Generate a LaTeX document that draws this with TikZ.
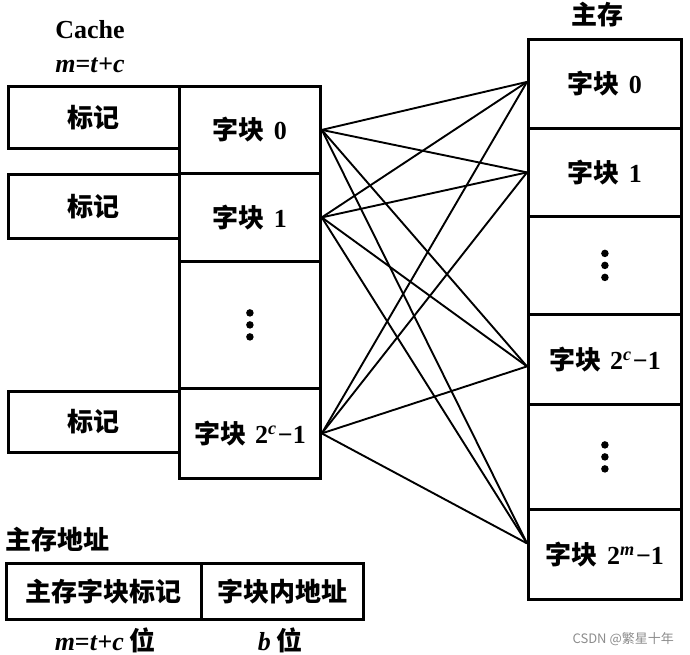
\documentclass[tikz,border=0pt]{standalone}
\usepackage{fontspec}
\setmainfont{Liberation Serif}
\newfontfamily\cjk{Noto Sans CJK SC}
\newfontfamily\wmfont{Noto Sans CJK SC}
\newcommand\zk[1]{{\cjk\bfseries 字块}\hspace{0.35em}\textbf{#1}}
\newcommand\zkc{\zk{2\textsuperscript{\textit{c}}\hspace{0.05em}−1}}
\newcommand\zkm{\zk{2\textsuperscript{\textit{m}}\hspace{0.05em}−1}}
\tikzset{
  box/.style={draw, line width=2.8pt, inner sep=0pt, anchor=north west,
    font=\fontsize{26}{28}\selectfont},
  link/.style={line width=1.9pt},
  lab/.style={inner sep=0pt, font=\fontsize{26}{28}\selectfont},
  dotc/.style={fill=black, circle, inner sep=0pt, minimum size=7.5pt},
}
\begin{document}
\begin{tikzpicture}[x=1pt,y=-1pt]
\useasboundingbox (0,0) rectangle (690,655);
% titles
\node[lab] (cachet) at (90,30) {\textbf{Cache}};
\node[lab] (cachem) at (90,65) {\textbf{\textit{m}=\textit{t}+\textit{c}}};
\node[lab] (memt) at (597,15) {\cjk\bfseries 主存};
% tags
\node[box, minimum width=171pt, minimum height=62pt] (tag0) at (7,85) {\cjk\bfseries 标记};
\node[box, minimum width=171pt, minimum height=64pt] (tag1) at (7,173) {\cjk\bfseries 标记};
\node[box, minimum width=171pt, minimum height=61pt] (tag2) at (7,390) {\cjk\bfseries 标记};
% cache blocks
\node[box, minimum width=141pt, minimum height=87pt] (cb0) at (178,85) {\zk{0}};
\node[box, minimum width=141pt, minimum height=88pt] (cb1) at (178,172) {\zk{1}};
\node[box, minimum width=141pt, minimum height=127pt] (cbd) at (178,260) {};
\node[box, minimum width=141pt, minimum height=90pt] (cbn) at (178,387) {\zkc};
% memory blocks
\node[box, minimum width=153pt, minimum height=89pt] (mb0) at (527,38) {\zk{0}};
\node[box, minimum width=153pt, minimum height=88pt] (mb1) at (527,127) {\zk{1}};
\node[box, minimum width=153pt, minimum height=98pt] (mbd1) at (527,215) {};
\node[box, minimum width=153pt, minimum height=90pt] (mbc) at (527,313) {\zkc};
\node[box, minimum width=153pt, minimum height=105pt] (mbd2) at (527,403) {};
\node[box, minimum width=153pt, minimum height=90pt] (mbm) at (527,508) {\zkm};
% dots
\foreach \n in {cbd, mbd1, mbd2} {
  \node[dotc] at ([yshift=12pt]\n.center) {};
  \node[dotc] at (\n.center) {};
  \node[dotc] at ([yshift=-12pt]\n.center) {};
}
% connectors
\foreach \c in {cb0,cb1,cbn} {
  \draw[link] (\c.east) -- ([yshift=2pt]mb0.west);
  \draw[link] (\c.east) -- (mb1.west);
  \draw[link] (\c.east) -- ([yshift=-7pt]mbc.west);
  \draw[link] (\c.east) -- ([yshift=11pt]mbm.west);
}
% main memory address
\node[lab, anchor=west] (addrt) at (5,540) {\cjk\bfseries 主存地址};
\node[box, minimum width=195pt, minimum height=56pt] (a1) at (5,562) {\cjk\bfseries 主存字块标记};
\node[box, minimum width=162pt, minimum height=56pt] (a2) at (200,562) {\cjk\bfseries 字块内地址};
\node[lab] (a1l) at (105,640) {\textbf{\textit{m}=\textit{t}+\textit{c}}\hspace{0.2em}{\cjk\bfseries 位}};
\node[lab] (a2l) at (280,640) {\textbf{\textit{b}}\hspace{0.2em}{\cjk\bfseries 位}};
% watermark
\node[inner sep=0pt, anchor=east, text=black!45, font=\wmfont\fontsize{13}{14}\selectfont] (wm) at (674,639) {CSDN @繁星十年};
\end{tikzpicture}
\end{document}
